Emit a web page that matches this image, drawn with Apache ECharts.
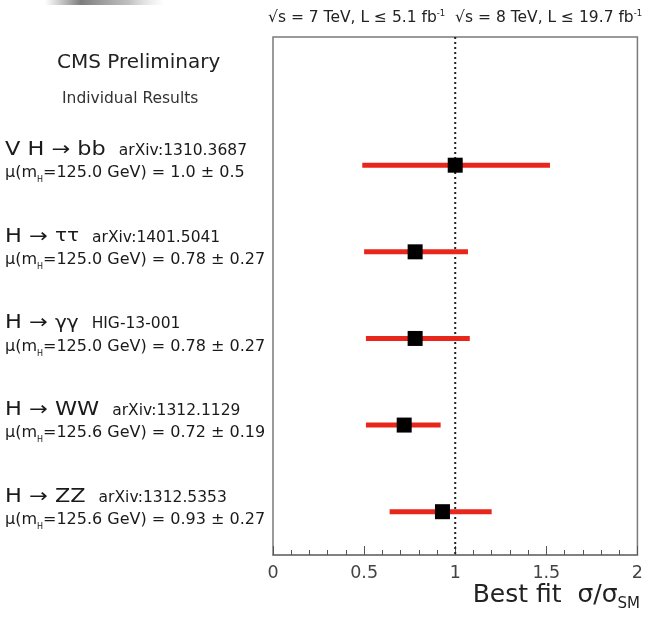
<!DOCTYPE html>
<html>
<head>
<meta charset="utf-8">
<script src="https://cdn.jsdelivr.net/npm/echarts@6/dist/echarts.min.js"></script>
<style>html,body{margin:0;padding:0;background:#fff;}#c{width:646px;height:619px;}</style>
</head>
<body>
<div id="c"></div>
<script>
// ---- data ----
const processes = ['V H', 'H', 'H', 'H', 'H'];
const finalStates = ['bb', '\u03c4\u03c4', '\u03b3\u03b3', 'WW', 'ZZ'];
const references = ['arXiv:1310.3687', 'arXiv:1401.5041', 'HIG-13-001', 'arXiv:1312.1129', 'arXiv:1312.5353'];
const higgsMass = ['125.0', '125.0', '125.0', '125.6', '125.6'];
const muText = ['1.0 \u00b1 0.5', '0.78 \u00b1 0.27', '0.78 \u00b1 0.27', '0.72 \u00b1 0.19', '0.93 \u00b1 0.27'];
const muBest = [1.0, 0.78, 0.78, 0.72, 0.93];
const muLow = [0.49, 0.50, 0.51, 0.51, 0.64];
const muHigh = [1.52, 1.07, 1.08, 0.92, 1.20];
const rowPos = [1, 2, 3, 4, 5];
const xTicks = [0, 0.5, 1, 1.5, 2];
const smValue = 1;

const FONT = 'DejaVu Sans, Verdana, sans-serif';
const TITLE_SIZE = 19, GREEK_SIZE = 17, TITLE_SCALE = 1.18;
const chart = echarts.init(document.getElementById('c'), null, {renderer: 'canvas'});

const mctx = document.createElement('canvas').getContext('2d');
function measure(txt, size) { mctx.font = size + 'px ' + FONT; return mctx.measureText(txt).width; }
function isGreek(s) { return /[\u0370-\u03ff]/.test(s); }

const rows = rowPos.map((r, i) => [r, muLow[i], muHigh[i], muBest[i], i]);

function renderRow(params, api) {
  const y = api.value(0), lo = api.value(1), hi = api.value(2), best = api.value(3);
  const i = api.value(4);
  const pLo = api.coord([lo, y]);
  const pHi = api.coord([hi, y]);
  const pB = api.coord([best, y]);
  const s = 15;
  const fsSize = isGreek(finalStates[i]) ? GREEK_SIZE : TITLE_SIZE;
  const titleW = (measure(processes[i] + ' \u2192 ', TITLE_SIZE) + measure(finalStates[i], fsSize)) * TITLE_SCALE;
  return {
    type: 'group',
    children: [
      {type: 'line', shape: {x1: pLo[0], y1: pLo[1], x2: pHi[0], y2: pHi[1]},
       style: {stroke: '#e8271c', lineWidth: 5}},
      {type: 'rect', shape: {x: pB[0] - s / 2, y: pB[1] - s / 2, width: s, height: s},
       style: {fill: '#000'}},
      {type: 'text', x: 5, y: pB[1] - 15, scaleX: TITLE_SCALE,
       style: {
         text: '{t|' + processes[i] + ' \u2192 }{f|' + finalStates[i] + '}',
         rich: {
           t: {fontSize: TITLE_SIZE, fontFamily: FONT, fill: '#1a1a1a'},
           f: {fontSize: fsSize, fontFamily: FONT, fill: '#1a1a1a'}
         },
         verticalAlign: 'middle', align: 'left'
       }},
      {type: 'text', x: 5 + titleW + 13, y: pB[1] - 14,
       style: {text: references[i], fontSize: 15.5, fontFamily: FONT, fill: '#1a1a1a',
         verticalAlign: 'middle', align: 'left'}},
      {type: 'text', x: 5, y: pB[1] + 8,
       style: {
         text: '{a|\u03bc(m}{s|H}{a|=' + higgsMass[i] + ' GeV) = ' + muText[i] + '}',
         rich: {
           a: {fontSize: 16, fontFamily: FONT, fill: '#1a1a1a'},
           s: {fontSize: 8, fontFamily: FONT, fill: '#1a1a1a', padding: [14, 0, 0, 0]}
         },
         verticalAlign: 'middle', align: 'left'
       }}
    ]
  };
}

chart.setOption({
  animation: false,
  backgroundColor: '#fff',
  grid: {left: 273, right: 5, top: 37, bottom: 64, show: true, borderColor: '#7a7a7a', borderWidth: 1.5, backgroundColor: 'transparent'},
  xAxis: {
    type: 'value', min: xTicks[0], max: xTicks[xTicks.length - 1], interval: 0.5,
    axisLine: {show: true, onZero: false, lineStyle: {color: '#7a7a7a', width: 1.5}},
    axisTick: {show: true, inside: true, length: 9, lineStyle: {color: '#555'}},
    minorTick: {show: true, splitNumber: 5, length: 5, lineStyle: {color: '#555'}},
    splitLine: {show: false},
    axisLabel: {fontSize: 17.5, color: '#444', fontFamily: FONT, margin: 9,
      formatter: v => (xTicks.indexOf(v) >= 0 ? String(v) : '')}
  },
  yAxis: {
    type: 'value', min: -0.48, max: 5.5, inverse: true, show: false
  },
  series: [
    {
      type: 'line', data: [[smValue, -0.48], [smValue, 5.5]], symbol: 'none', silent: true,
      lineStyle: {color: '#222', width: 2, type: [2, 3]}, z: 1
    },
    {
      type: 'custom', data: rows, renderItem: renderRow, z: 3,
      encode: {x: [1, 2, 3], y: 0}
    }
  ],
  graphic: [
    {type: 'rect', left: 45, top: 0, shape: {width: 120, height: 5},
     style: {fill: {type: 'linear', x: 0, y: 0, x2: 1, y2: 0, colorStops: [
       {offset: 0, color: 'rgba(120,120,120,0)'}, {offset: 0.3, color: 'rgba(110,110,110,0.9)'},
       {offset: 0.7, color: 'rgba(150,150,150,0.6)'}, {offset: 1, color: 'rgba(200,200,200,0)'}]}}},
    {type: 'text', left: 268, top: 9,
     style: {text: '\u221as = 7 TeV, L \u2264 5.1 fb{sup|-1}  \u221as = 8 TeV, L \u2264 19.7 fb{sup|-1}',
       rich: {sup: {fontSize: 8.5, padding: [0, 0, 8, 0], fontFamily: FONT, fill: '#222'}},
       fontSize: 15.5, fontFamily: FONT, fill: '#222'}},
    {type: 'text', left: 57, top: 53,
     style: {text: 'CMS Preliminary', fontSize: 20, fontFamily: FONT, fill: '#222'}},
    {type: 'text', left: 62, top: 91,
     style: {text: 'Individual Results', fontSize: 15.5, fontFamily: FONT, fill: '#333'}},
    {type: 'text', right: 6, top: 583,
     style: {text: '{a|Best fit  \u03c3/\u03c3}{s|SM}',
       rich: {a: {fontSize: 25, fontFamily: FONT, fill: '#222'},
              s: {fontSize: 15, fontFamily: FONT, fill: '#222', padding: [17, 0, 0, 0]}}}}
  ]
});
</script>
</body>
</html>
